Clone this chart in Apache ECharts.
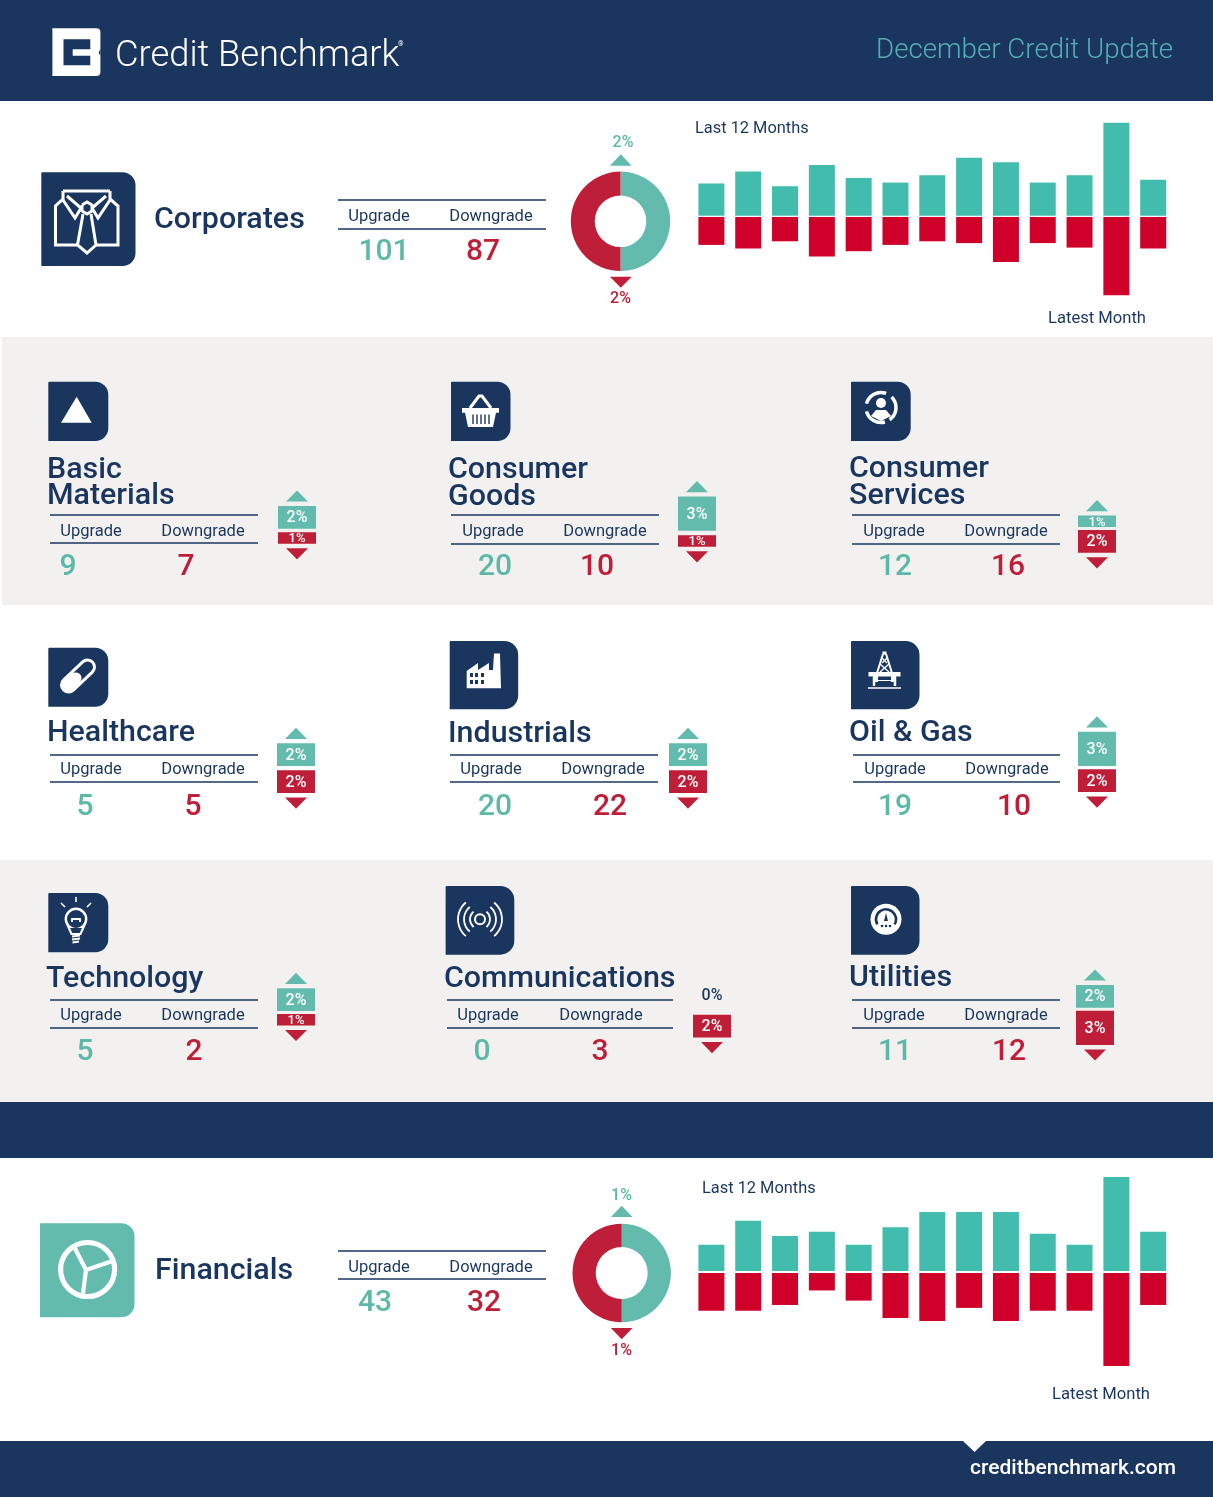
<!DOCTYPE html>
<html><head><meta charset="utf-8">
<style>html,body{margin:0;padding:0;background:#fff}#c{width:1213px;height:1497px}</style>
<script src="https://cdn.jsdelivr.net/npm/echarts@6/dist/echarts.min.js"></script>
</head><body><div id="c"></div>
<script>
// ---------- data ----------
const sectorNames = [['Basic','Materials'],['Consumer','Goods'],['Consumer','Services'],['Healthcare'],['Industrials'],['Oil & Gas'],['Technology'],['Communications'],['Utilities']];
const sectorUpCounts = [9,20,12,5,20,19,5,0,11];
const sectorDownCounts = [7,10,16,5,22,10,2,3,12];
const sectorUpPct = [2,3,1,2,2,3,2,0,2];
const sectorDownPct = [1,1,2,2,2,2,1,2,3];

const corporatesUp = [35,48,32,55,41,36,44,63,58,36,44,101,39];
const corporatesDown = [31,35,27,44,38,31,27,29,50,29,34,87,35];
const corporatesCounts = [101,87];
const corporatesPct = [2,2];

const financialsUp = [12,23,16,18,12,20,27,27,27,17,12,43,18];
const financialsDown = [13,13,11,6,9.5,15.5,16.5,12,16.5,13,13,32,11];
const financialsCounts = [43,32];
const financialsPct = [1,1];

const monthSlots = ['1','2','3','4','5','6','7','8','9','10','11','12','13'];
const headerLabels = ['Upgrade','Downgrade'];

// ---------- layout (positions only) ----------
const NAVY='#1A365F', TEAL='#63BBAD', RED='#BE1E37', BARTEAL='#42BDAD', BARRED='#CF0029', TXTEAL='#5DB9A7', BG='#F2F1EF';
const FONT='Roboto';
const PCT_PX=11.4;
const tiles=[
 {tx:47,ty:[467,493],lx:[50,258],ly:[515,543],hy:530,ux:91,dx:203,cy:565,cu:68,cd:186,bx:278,upEnd:528.7,downStart:532.3},
 {tx:448,ty:[467,494],lx:[451,659],ly:[515,544],hy:530,ux:493,dx:605,cy:565,cu:495,cd:597,bx:678,upEnd:530.7,downStart:535.3},
 {tx:849,ty:[466,493],lx:[852,1060],ly:[515,544],hy:530,ux:894,dx:1006,cy:565,cu:895,cd:1008,bx:1078,upEnd:527,downStart:530},
 {tx:47,ty:[730],lx:[50,258],ly:[755,782],hy:768,ux:91,dx:203,cy:805,cu:85,cd:193,bx:277,upEnd:766,downStart:770.3},
 {tx:448,ty:[731],lx:[450,658],ly:[755,782],hy:768,ux:491,dx:603,cy:805,cu:495,cd:610,bx:669,upEnd:766,downStart:770.3},
 {tx:849,ty:[730],lx:[853,1060],ly:[755,782],hy:768,ux:895,dx:1007,cy:805,cu:895,cd:1014,bx:1078,upEnd:766,downStart:769.3},
 {tx:46,ty:[976],lx:[50,258],ly:[1000,1028],hy:1014,ux:91,dx:203,cy:1050,cu:85,cd:194,bx:277,upEnd:1011,downStart:1014},
 {tx:444,ty:[976],lx:[447,673],ly:[1000,1028],hy:1014,ux:488,dx:601,cy:1050,cu:482,cd:600,bx:693,upEnd:1011,downStart:1014.7},
 {tx:849,ty:[975],lx:[852,1060],ly:[1000,1028],hy:1014,ux:894,dx:1006,cy:1050,cu:895,cd:1009,bx:1076,upEnd:1007.7,downStart:1010.7}
];

// ---------- graphic helpers ----------
const g=[];
const rect=(x,y,w,h,fill,r)=>g.push({type:'rect',shape:{x,y,width:w,height:h,r:r||0},style:{fill},silent:true});
const poly=(pts,fill)=>g.push({type:'polygon',shape:{points:pts},style:{fill},silent:true});
const pl=(pts,stroke,lw,cap)=>g.push({type:'polyline',shape:{points:pts},style:{stroke,lineWidth:lw,fill:null,lineCap:cap||'butt',lineJoin:'miter'},silent:true});
const circ=(cx,cy,r,fill,stroke,lw)=>g.push({type:'circle',shape:{cx,cy,r},style:{fill:fill||null,stroke:stroke||null,lineWidth:lw||0},silent:true});
const arc=(cx,cy,r,a0,a1,stroke,lw)=>g.push({type:'arc',shape:{cx,cy,r,startAngle:a0,endAngle:a1,clockwise:true},style:{stroke,lineWidth:lw,fill:null},silent:true});
const txt=(x,y,text,o)=>g.push({type:'text',x,y,silent:true,style:Object.assign({text,fontFamily:FONT,fill:NAVY,fontSize:16,fontWeight:400,textAlign:'left',textVerticalAlign:'middle'},o||{})});
const triUp=(cx,base,w,h,f)=>poly([[cx-w/2,base],[cx+w/2,base],[cx,base-h]],f);
const triDown=(cx,top,w,h,f)=>poly([[cx-w/2,top],[cx+w/2,top],[cx,top+h]],f);
const D2R=Math.PI/180;

// ---------- backgrounds ----------
rect(0,0,1213,101,NAVY);
rect(2,337,1211,268,BG);
rect(0,860,1213,242,BG);
rect(0,1102,1213,56,NAVY);
rect(0,1441,1213,56,NAVY);
poly([[963,1441],[986,1441],[974.5,1452]],'#fff');

// header
rect(52.4,28.3,48,47.7,'#fff',[0,4,4,0]);
poly([[63.5,39.3],[90.3,39.3],[90.3,49.3],[72.7,49.3],[72.7,55.7],[90.3,55.7],[90.3,65.3],[63.5,65.3]],NAVY);
poly([[100.4,49],[98.6,52.5],[100.4,56]],NAVY);
txt(115,57,'Credit Benchmark',{fontSize:36.3,fontWeight:300,fill:'#fff'});
txt(398,44,'®',{fontSize:7,fill:'#fff'});
txt(1173,51,'December Credit Update',{fontSize:27.7,fontWeight:300,fill:'#55AEB4',textAlign:'right'});
txt(1176,1469,'creditbenchmark.com',{fontSize:21,fontWeight:500,fill:'#fff',textAlign:'right'});

// tables
function table(t,up,down){
  pl([[t.lx[0],t.ly[0]],[t.lx[1],t.ly[0]]],NAVY,1.6);
  pl([[t.lx[0],t.ly[1]],[t.lx[1],t.ly[1]]],NAVY,1.6);
  txt(t.ux,t.hy+2,headerLabels[0],{fontSize:16.5,textAlign:'center'});
  txt(t.dx,t.hy+2,headerLabels[1],{fontSize:16.5,textAlign:'center'});
  txt(t.cu,t.cy+2.5,String(up),{fontSize:30,fontWeight:500,fill:TXTEAL,textAlign:'center'});
  txt(t.cd,t.cy+2.5,String(down),{fontSize:30,fontWeight:500,fill:RED,textAlign:'center'});
}
const series=[],grids=[],xAxes=[],yAxes=[];
function addBars(left,top,width,height,cats,vals,color,barW,max,inverse,label){
  const i=grids.length;
  grids.push({left,top,width,height,containLabel:false,show:false});
  xAxes.push({type:'category',gridIndex:i,data:cats,show:false});
  yAxes.push({type:'value',gridIndex:i,min:0,max,inverse,show:false});
  series.push({type:'bar',xAxisIndex:i,yAxisIndex:i,data:vals,barWidth:barW,itemStyle:{color},silent:true,animation:false,label:label||{show:false}});
}

// tiles
tiles.forEach((t,i)=>{
  const name=sectorNames[i];
  name.forEach((n,k)=>txt(t.tx,t.ty[k]+3,n,{fontSize:30.4,fontWeight:500}));
  table(t,sectorUpCounts[i],sectorDownCounts[i]);
  const up=sectorUpPct[i],dn=sectorDownPct[i],cx=t.bx+19;
  const lab=v=>({show:true,position:'inside',offset:[0,1],formatter:'{c}%',color:'#fff',fontFamily:FONT,fontWeight:500,fontSize:v<2?13:16});
  if(up>0){
    addBars(t.bx,t.upEnd-3*PCT_PX,38,3*PCT_PX,[sectorNames[i].join(' ')],[up],TEAL,38,3,false,lab(up));
    triUp(cx,t.upEnd-up*PCT_PX-4.3,22,11.2,TEAL);
  } else {
    txt(cx,996,up+'%',{fontSize:16,fontWeight:500,textAlign:'center'});
  }
  addBars(t.bx,t.downStart,38,3*PCT_PX,[sectorNames[i].join(' ')],[dn],RED,38,3,true,lab(dn));
  triDown(cx,t.downStart+dn*PCT_PX+4.5,22,11.2,RED);
});

// Corporates and financials summaries
table({lx:[338,546],ly:[200,229],hy:215,ux:379,dx:491,cy:250,cu:384,cd:483},corporatesCounts[0],corporatesCounts[1]);
txt(154,220,'Corporates',{fontSize:30.4,fontWeight:500});
table({lx:[338,546],ly:[1251,1279],hy:1266,ux:379,dx:491,cy:1301,cu:375,cd:484},financialsCounts[0],financialsCounts[1]);
txt(155,1271,'Financials',{fontSize:30.4,fontWeight:500});

const pctLabel=(x,y,v,fill)=>txt(x,y+1,v+'%',{fontSize:16,fontWeight:500,fill,textAlign:'center'});
pctLabel(623,142,corporatesPct[0],TXTEAL); triUp(620.8,165.7,21.7,11.4,TEAL);
triDown(620.8,276.7,21.7,11,RED); pctLabel(620.5,298,corporatesPct[1],RED);
pctLabel(621.5,1194.5,financialsPct[0],TXTEAL); triUp(621.7,1217,21.7,11.3,TEAL);
triDown(621.7,1328,21.7,11.3,RED); pctLabel(621.5,1349.5,financialsPct[1],RED);

txt(695,129,'Last 12 Months',{fontSize:16.4});
txt(1048,319,'Latest Month',{fontSize:16.6});
txt(702,1189,'Last 12 Months',{fontSize:16.4});
txt(1052,1395,'Latest Month',{fontSize:16.6});

const donut=(cx,cy,ro,ri,vals)=>series.push({type:'pie',silent:true,animation:false,center:[cx,cy],radius:[ri,ro],startAngle:90,clockwise:true,label:{show:false},labelLine:{show:false},
  data:[{name:'Upgrade',value:vals[0],itemStyle:{color:TEAL}},{name:'Downgrade',value:vals[1],itemStyle:{color:RED}}]});
donut(620.5,221.3,49.7,25.8,corporatesPct);
donut(621.7,1273,49.2,26,financialsPct);

const BL=693,BW=478.6;
addBars(BL,122.7,BW,93,monthSlots,corporatesUp,BARTEAL,26,101);
addBars(BL,217,BW,78.3,monthSlots,corporatesDown,BARRED,26,87,true);
addBars(BL,1177,BW,94,monthSlots,financialsUp,BARTEAL,26,43);
addBars(BL,1273,BW,93,monthSlots,financialsDown,BARRED,26,32,true);

// ---------- icons ----------
const W='#fff';
const iconBox=(x,y,w,h,r,f)=>rect(x,y,w,h,f||NAVY,[1,r,r,0]);
// corporates: shirt and tie
iconBox(41.3,172.3,94.2,93.7,13);
pl([[63,191],[110,191]],W,3);
pl([[63,191],[63,199],[55.5,206],[55.5,245],[77.5,245]],W,3);
pl([[110,191],[110,199],[118,206],[118,245],[96,245]],W,3);
pl([[67,196],[81,208],[75,218],[63,200]],W,3);
pl([[106,196],[92,208],[98,218],[110,200]],W,3);
poly([[82,205],[87,202],[92,205],[92,211],[87,214],[82,211]],NAVY);
pl([[82,205],[87,202],[92,205],[92,211],[87,214],[82,211],[82,205]],W,3);
pl([[83,214],[77.5,245],[87,253],[96,245],[91,214]],W,3);
// basic materials
iconBox(48.3,381.7,60,59.3,13);
poly([[76.7,396.7],[91.7,422.7],[61,422.7]],W);
// consumer goods: basket
iconBox(451,381.7,59.5,59.3,13);
poly([[462,408],[499,408],[499,412.7],[496,412.7],[493,427],[468,427],[465,412.7],[462,412.7]],W);
pl([[470,408],[479,396],[482,396],[491,408]],W,3);
[473,477,481,485,489].forEach(x=>pl([[x,414.5],[x,424]],NAVY,1.4));
// consumer services
iconBox(851,381.7,59.7,59.3,13);
arc(881,407.5,15,-165*D2R,-70*D2R,W,3.5);
arc(881,407.5,15,-45*D2R,55*D2R,W,3.5);
arc(881,407.5,15,75*D2R,165*D2R,W,3.5);
circ(881,403,5,W);
poly([[871,416],[876,410],[886,410],[891,416],[881,421]],W);
// healthcare: pill
iconBox(48.3,647.7,60,59,13);
pl([[68.5,685],[87.5,667]],W,17,'round');
pl([[78,676],[87.5,667]],NAVY,11,'round');
pl([[68.5,685],[76,678]],W,11,'round');
// industrials
iconBox(449.7,641,68.5,68.3,14);
poly([[466.7,671],[478,663],[478,670],[489,663],[489,670],[493,670],[494,653.5],[500,653.5],[501,688.3],[466.7,688.3]],W);
[470,475,481].forEach(x=>{[673,680].forEach(y=>rect(x,y,3,4,NAVY));});
// oil & gas
iconBox(851,641,68.5,68.3,14);
pl([[882.5,653],[886.5,653]],W,3);
pl([[883,654],[877,673]],W,2); pl([[886,654],[892,673]],W,2);
pl([[880,664],[889,672]],W,1.3); pl([[889,664],[880,672]],W,1.3); pl([[882,658],[887,663]],W,1.3); pl([[887,658],[882,663]],W,1.3);
rect(868.5,672,32,4.5,W);
rect(873,676,5,6,W); rect(891,676,5,6,W); rect(876,680,17,1,W);
pl([[874,677],[874,686]],W,2.5); pl([[895,677],[895,686]],W,2.5);
pl([[868,688],[901,688]],W,1.6);
// technology: bulb
iconBox(48.3,893,60,59.3,13);
circ(76,919,10.2,NAVY,W,2.4);
poly([[68,928],[84,928],[81,935],[71,935]],NAVY);
pl([[67.5,925],[71.5,934],[80.5,934],[84.5,925]],W,2.2);
pl([[72,922],[72,919],[80,919],[80,922]],W,1.8);
pl([[72,936.5],[80,935.5]],W,1.8); pl([[72,939.5],[80,938.5]],W,1.8); pl([[72.5,942.5],[79,941.5]],W,1.8);
pl([[76,897],[76,902]],W,1.6); pl([[61,903],[65,907]],W,1.6); pl([[91,903],[87,907]],W,1.6);
// communications
iconBox(445.6,886,68.7,68.7,14);
circ(480,919.3,5,null,W,2);
[10,16,22].forEach(r=>{arc(480,919.3,r,-50*D2R,50*D2R,W,1.8);arc(480,919.3,r,130*D2R,230*D2R,W,1.8);});
// utilities
iconBox(851,886,68.5,68.7,14);
circ(886,919.3,15.5,W);
arc(886,919.3,10,150*D2R,390*D2R,NAVY,2.6);
poly([[886,913],[888,921],[884,921]],NAVY);
[882,886,890].forEach(x=>circ(x,926,1.3,NAVY));
// financials
iconBox(40,1223.3,94.5,94,13,TEAL);
circ(87.6,1269.5,27,null,W,5.2);
pl([[74,1246.5],[86,1270],[111,1261.5]],W,4.2);
pl([[86,1270],[83,1293.5]],W,4.2);

const chart=echarts.init(document.getElementById('c'),null,{renderer:'canvas',width:1213,height:1497});
chart.setOption({animation:false,backgroundColor:'#fff',tooltip:{show:false},grid:grids,xAxis:xAxes,yAxis:yAxes,series,graphic:{elements:g}});
</script></body></html>
